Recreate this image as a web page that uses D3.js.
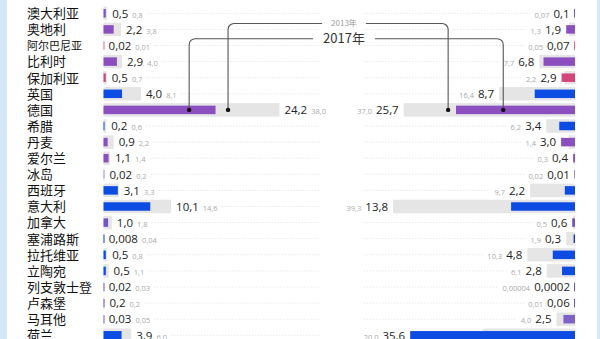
<!DOCTYPE html>
<html>
<head>
<meta charset="utf-8">
<script src="https://cdn.jsdelivr.net/npm/d3@7"></script>
<style>
  html, body { margin: 0; padding: 0; background: #fff; }
  svg { display: block; }
</style>
</head>
<body>
<svg id="chart" width="600" height="339"></svg>
<script>
// Countries, one row each
const countries = ["澳大利亚", "奥地利", "阿尔巴尼亚", "比利时", "保加利亚", "英国", "德国", "希腊", "丹麦", "爱尔兰", "冰岛",
  "西班牙", "意大利", "加拿大", "塞浦路斯", "拉托维亚", "立陶宛", "列支敦士登", "卢森堡", "马耳他", "荷兰"];

// Left panel: 2017 and 2013 values
const left2017 = [0.5, 2.2, 0.02, 2.9, 0.5, 4.0, 24.2, 0.2, 0.9, 1.1, 0.02, 3.1, 10.1, 1.0, 0.008, 0.5, 0.5, 0.02, 0.2, 0.03, 3.9];
const left2013 = [0.8, 3.8, 0.01, 4.0, 0.7, 8.1, 38.0, 0.6, 2.2, 1.4, 0.2, 3.3, 14.6, 1.8, 0.04, 0.8, 1.1, 0.03, 0.2, 0.05, 6.0];

// Right panel: 2017 and 2013 values
const right2017 = [0.1, 1.9, 0.07, 6.8, 2.9, 8.7, 25.7, 3.4, 3.0, 0.4, 0.01, 2.2, 13.8, 0.6, 0.3, 4.8, 2.8, 0.0002, 0.06, 2.5, 35.6];
const right2013 = [0.07, 1.3, 0.05, 7.7, 2.2, 16.4, 37.0, 6.2, 1.4, 0.3, 0.02, 9.7, 39.3, 0.5, 1.9, 10.3, 6.1, 0.00004, 0.01, 4.0, 20.0];

// Bar colour per country
const barColors = ["#7a57c8", "#8b4fc0", "#e0668f", "#8b4fc0", "#d4467a", "#0c4ce2", "#8b4fc0", "#0c4ce2", "#8b4fc0", "#8b4fc0", "#a68fd6",
  "#0c4ce2", "#0c4ce2", "#7354c6", "#1634d2", "#0c4ce2", "#0c4ce2", "#6c54c4", "#6c54c4", "#7d62c8", "#0c4ce2"];

// Year callouts anchored on the 德国 row: position along each bar in data units
const callouts = [
  { label: "2013年", left: 26.9, right: 27.4, level: 23.5, size: 8, color: "#9a9a9a" },
  { label: "2017年", left: 18.5, right: 15.5, level: 38.7, size: 13, color: "#333" }
];

const svg = d3.select("#chart");
const H = 339;

// frame strips
svg.append("rect").attr("x", 0).attr("y", 0).attr("width", 7).attr("height", H).attr("fill", "#d3e8f8");
svg.append("rect").attr("x", 597).attr("y", 0).attr("width", 3).attr("height", H).attr("fill", "#d3e8f8");

const rows = countries.map((c, i) => ({
  name: c, i,
  l17: left2017[i], l13: left2013[i],
  r17: right2017[i], r13: right2013[i],
  color: barColors[i]
}));

const y = d3.scaleBand().domain(countries).range([5.25, 5.25 + 21 * 16.1]).padding(0);
const yc = d => y(d) + y.bandwidth() / 2;

const xL = d3.scaleLinear().domain([0, 40]).range([103.5, 103.5 + 185.2]);
const xR = d3.scaleLinear().domain([0, 40]).range([575, 575 - 185.2]);

const grayH = 13.5, barH = 8.5;
const minW = v => Math.max(1, v);

const fmt = v => (v >= 0.1 ? v.toFixed(1) : String(v)).replace(".", ",");

const numFont = "'Open Sans', 'Noto Sans', sans-serif";
const cjkFont = "'Noto Sans CJK SC', sans-serif";

// layer for dotted row guides (drawn first so bars sit above)
const guides = svg.append("g");

// country names
svg.append("g").selectAll("text").data(rows).join("text")
  .attr("x", 27)
  .attr("y", d => yc(d.name) + (d.name === "阿尔巴尼亚" ? 4 : 4.8))
  .attr("font-family", cjkFont)
  .attr("font-size", d => d.name === "阿尔巴尼亚" ? 11 : 13)
  .attr("fill", "#111")
  .text(d => d.name);

// ---- left panel ----
const gL = svg.append("g");
gL.selectAll("rect.g13").data(rows).join("rect")
  .attr("class", "g13")
  .attr("x", xL(0))
  .attr("y", d => yc(d.name) - grayH / 2)
  .attr("width", d => xL(d.l13) - xL(0))
  .attr("height", grayH)
  .attr("fill", "#e5e5e5");
gL.selectAll("rect.b17").data(rows).join("rect")
  .attr("class", "b17")
  .attr("x", xL(0))
  .attr("y", d => yc(d.name) - barH / 2)
  .attr("width", d => minW(xL(d.l17) - xL(0)))
  .attr("height", barH)
  .attr("fill", d => d.color);

const leftEnds = [];
rows.forEach(d => {
  const x0 = Math.max(xL(d.l17), xL(d.l13)) + 5;
  const big = gL.append("text")
    .attr("x", x0).attr("y", yc(d.name) + 4.2)
    .attr("font-family", numFont).attr("font-size", 11.5).attr("fill", "#222")
    .text(fmt(d.l17));
  const bw = big.node().getComputedTextLength();
  const small = gL.append("text")
    .attr("x", x0 + bw + 4).attr("y", yc(d.name) + 4.2)
    .attr("font-family", numFont).attr("font-size", 7.5).attr("fill", "#aaa")
    .text(fmt(d.l13));
  leftEnds.push(x0 + bw + 4 + small.node().getComputedTextLength());
});

// ---- right panel ----
const gR = svg.append("g");
gR.selectAll("rect.g13").data(rows).join("rect")
  .attr("class", "g13")
  .attr("x", d => xR(d.r13))
  .attr("y", d => yc(d.name) - grayH / 2)
  .attr("width", d => xR(0) - xR(d.r13))
  .attr("height", grayH)
  .attr("fill", "#e5e5e5");
gR.selectAll("rect.b17").data(rows).join("rect")
  .attr("class", "b17")
  .attr("x", d => xR(0) - minW(xR(0) - xR(d.r17)))
  .attr("y", d => yc(d.name) - barH / 2)
  .attr("width", d => minW(xR(0) - xR(d.r17)))
  .attr("height", barH)
  .attr("fill", d => d.color);

const rightStarts = [];
rows.forEach(d => {
  const x1 = Math.min(xR(d.r17), xR(d.r13)) - 5;
  const big = gR.append("text")
    .attr("x", x1).attr("y", yc(d.name) + 4.2)
    .attr("text-anchor", "end")
    .attr("font-family", numFont).attr("font-size", 11.5).attr("fill", "#222")
    .text(fmt(d.r17));
  const bw = big.node().getComputedTextLength();
  const small = gR.append("text")
    .attr("x", x1 - bw - 4).attr("y", yc(d.name) + 4.2)
    .attr("text-anchor", "end")
    .attr("font-family", numFont).attr("font-size", 7.5).attr("fill", "#aaa")
    .text(fmt(d.r13));
  rightStarts.push(x1 - bw - 4 - small.node().getComputedTextLength());
});

// dotted row guides between the two panels
rows.forEach((d, i) => {
  const a = leftEnds[i] + 4, b = Math.min(320, rightStarts[i] - 4);
  if (b > a) guides.append("line").attr("x1", a).attr("x2", b)
    .attr("y1", yc(d.name)).attr("y2", yc(d.name))
    .attr("stroke", "#e8e8e8").attr("stroke-width", 1).attr("stroke-dasharray", "1.5,1.5");
  const c = Math.max(364, leftEnds[i] + 4), e = rightStarts[i] - 4;
  if (e > c) guides.append("line").attr("x1", c).attr("x2", e)
    .attr("y1", yc(d.name)).attr("y2", yc(d.name))
    .attr("stroke", "#e8e8e8").attr("stroke-width", 1).attr("stroke-dasharray", "1.5,1.5");
});

// ---- year callouts ----
const ay = yc("德国");
const gA = svg.append("g");
const r = 6;
callouts.forEach(c => {
  const xa = xL(c.left);
  const xb = xR(c.right);
  const ly = c.level;
  const t = gA.append("text")
    .attr("x", 344).attr("y", ly + c.size * 0.36)
    .attr("text-anchor", "middle")
    .attr("font-family", cjkFont).attr("font-size", c.size).attr("fill", c.color)
    .text(c.label);
  const tw = t.node().getComputedTextLength();
  const gap = c.size > 10 ? 10 : 9;
  const tl = 344 - tw / 2 - gap, tr = 344 + tw / 2 + gap;
  const p1 = d3.path();
  p1.moveTo(xa, ay);
  p1.lineTo(xa, ly + r);
  p1.arcTo(xa, ly, xa + r, ly, r);
  p1.lineTo(tl, ly);
  const p2 = d3.path();
  p2.moveTo(tr, ly);
  p2.lineTo(xb - r, ly);
  p2.arcTo(xb, ly, xb, ly + r, r);
  p2.lineTo(xb, ay);
  [p1, p2].forEach(p => gA.append("path").attr("d", p.toString())
    .attr("fill", "none").attr("stroke", "#555").attr("stroke-width", 1.1));
  [xa, xb].forEach(x => gA.append("circle").attr("cx", x).attr("cy", ay).attr("r", 2.2).attr("fill", "#111"));
});
</script>
</body>
</html>
